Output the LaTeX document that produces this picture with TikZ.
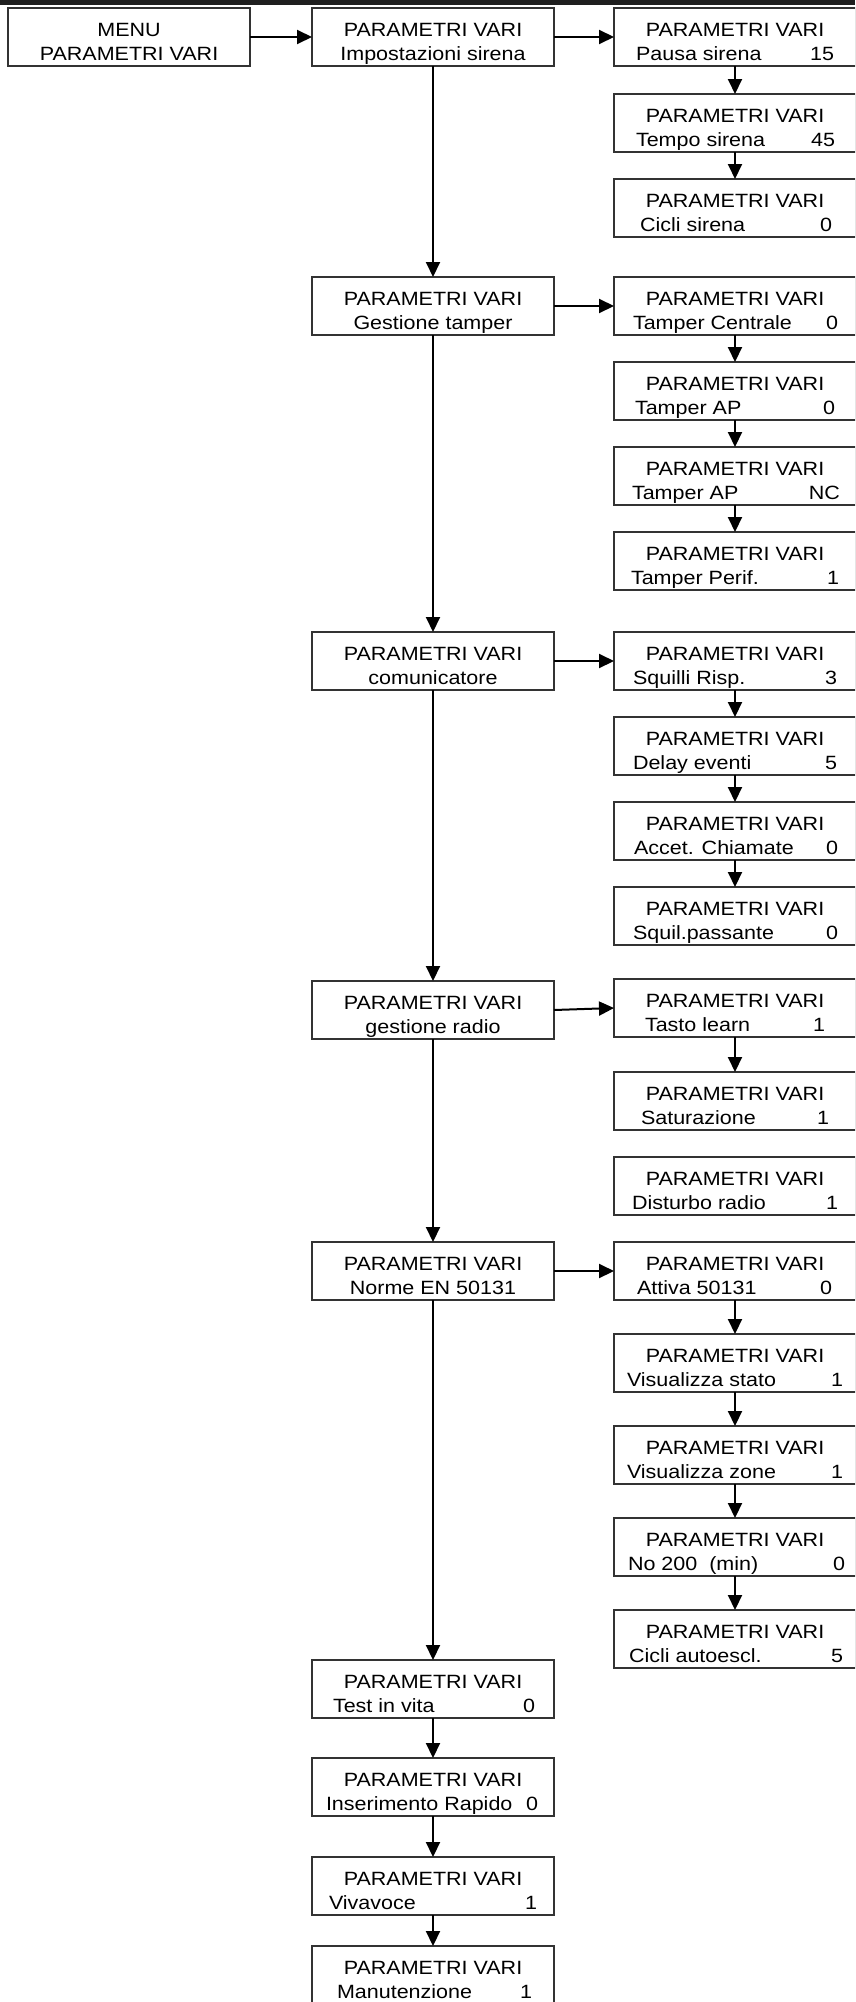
\documentclass[tikz,border=0pt]{standalone}
\usepackage{fontspec}
\setmainfont{Liberation Sans}[FakeStretch=1.12]
\usetikzlibrary{arrows.meta}
\definecolor{boxc}{gray}{0.2}
\definecolor{barc}{gray}{0.12}
\newcommand{\pvfont}{\fontsize{19.2pt}{23pt}\selectfont}
\tikzset{
  box/.style={draw=boxc, line width=1.2pt, minimum width=242pt, minimum height=58pt,
    inner sep=0pt, outer sep=0pt, anchor=north west},
  txt/.style={inner sep=0pt, outer sep=0pt, font=\pvfont, anchor=base},
  arr/.style={line width=2pt, -{Triangle[length=15pt,width=14pt]}},
}
% right-column box: name, x, top, label, value, label left x, value right x
\newcommand{\mkrow}[7]{%
  \node[box] (#1) at (#2,#3) {};
  \node[txt] (#1-t) at ([yshift=-28.5pt]#1.north) {PARAMETRI VARI};
  \node[txt, anchor=base west] (#1-l) at (#6,#3+52) {#4};
  \node[txt, anchor=base east] (#1-v) at (#7,#3+52) {#5};
}
% centred box: name, x, top, line1, line2
\newcommand{\mkcen}[5]{%
  \node[box] (#1) at (#2,#3) {};
  \node[txt] (#1-t) at ([yshift=-28.5pt]#1.north) {#4};
  \node[txt] (#1-b) at ([yshift=-52pt]#1.north) {#5};
}
\begin{document}
\begin{tikzpicture}[x=1pt,y=-1pt]
\useasboundingbox (0,0) rectangle (855,2002);
\clip (0,0) rectangle (855,2002);
\fill[barc] (0,0) rectangle (855,5);

% column 1 and 2
\mkcen{m0}{8}{8}{MENU}{PARAMETRI VARI}
\mkcen{p1}{312}{8}{PARAMETRI VARI}{Impostazioni sirena}
\mkcen{p2}{312}{277}{PARAMETRI VARI}{Gestione tamper}
\mkcen{p3}{312}{632}{PARAMETRI VARI}{comunicatore}
\mkcen{p4}{312}{981}{PARAMETRI VARI}{gestione radio}
\mkcen{p5}{312}{1242}{PARAMETRI VARI}{Norme EN 50131}
\mkrow{q1}{312}{1660}{Test in vita}{0}{333}{535}
\mkrow{q2}{312}{1758}{Inserimento Rapido}{0}{326}{538}
\mkrow{q3}{312}{1857}{Vivavoce}{1}{329}{537}
\mkrow{q4}{312}{1946}{Manutenzione}{1}{337}{532}

% column 3
\mkrow{s1}{614}{8}{Pausa sirena}{15}{636}{834}
\mkrow{s2}{614}{94}{Tempo sirena}{45}{636}{835}
\mkrow{s3}{614}{179}{Cicli sirena}{0}{640}{832}
\mkrow{t1}{614}{277}{Tamper Centrale}{0}{633}{838}
\mkrow{t2}{614}{362}{Tamper AP}{0}{635}{835}
\mkrow{t3}{614}{447}{Tamper AP}{NC}{632}{840}
\mkrow{t4}{614}{532}{Tamper Perif.}{1}{631}{839}
\mkrow{c1}{614}{632}{Squilli Risp.}{3}{633}{837}
\mkrow{c2}{614}{717}{Delay eventi}{5}{633}{837}
\mkrow{c3}{614}{802}{Accet. Chiamate}{0}{634}{838}
\mkrow{c4}{614}{887}{Squil.passante}{0}{633}{838}
\mkrow{r1}{614}{979}{Tasto learn}{1}{645}{825}
\mkrow{r2}{614}{1072}{Saturazione}{1}{641}{829}
\mkrow{r3}{614}{1157}{Disturbo radio}{1}{632}{838}
\mkrow{n1}{614}{1242}{Attiva 50131}{0}{637}{832}
\mkrow{n2}{614}{1334}{Visualizza stato}{1}{627}{843}
\mkrow{n3}{614}{1426}{Visualizza zone}{1}{627}{843}
\mkrow{n4}{614}{1518}{No 200~ (min)}{0}{628}{845}
\mkrow{n5}{614}{1610}{Cicli autoescl.}{5}{629}{843}

% horizontal arrows
\draw[arr] (m0.east) -- (p1.west);
\draw[arr] (p1.east) -- (s1.west);
\draw[arr] (p2.east) -- (t1.west);
\draw[arr] (p3.east) -- (c1.west);
\draw[arr] (p4.east) -- (r1.west);
\draw[arr] (p5.east) -- (n1.west);

% column 2 vertical arrows
\draw[arr] (p1.south) -- (p2.north);
\draw[arr] (p2.south) -- (p3.north);
\draw[arr] (p3.south) -- (p4.north);
\draw[arr] (p4.south) -- (p5.north);
\draw[arr] (p5.south) -- (q1.north);
\draw[arr] (q1.south) -- (q2.north);
\draw[arr] (q2.south) -- (q3.north);
\draw[arr] (q3.south) -- (q4.north);

% column 3 vertical arrows
\draw[arr] (s1.south) -- (s2.north);
\draw[arr] (s2.south) -- (s3.north);
\draw[arr] (t1.south) -- (t2.north);
\draw[arr] (t2.south) -- (t3.north);
\draw[arr] (t3.south) -- (t4.north);
\draw[arr] (c1.south) -- (c2.north);
\draw[arr] (c2.south) -- (c3.north);
\draw[arr] (c3.south) -- (c4.north);
\draw[arr] (r1.south) -- (r2.north);
\draw[arr] (n1.south) -- (n2.north);
\draw[arr] (n2.south) -- (n3.north);
\draw[arr] (n3.south) -- (n4.north);
\draw[arr] (n4.south) -- (n5.north);
\end{tikzpicture}
\end{document}
